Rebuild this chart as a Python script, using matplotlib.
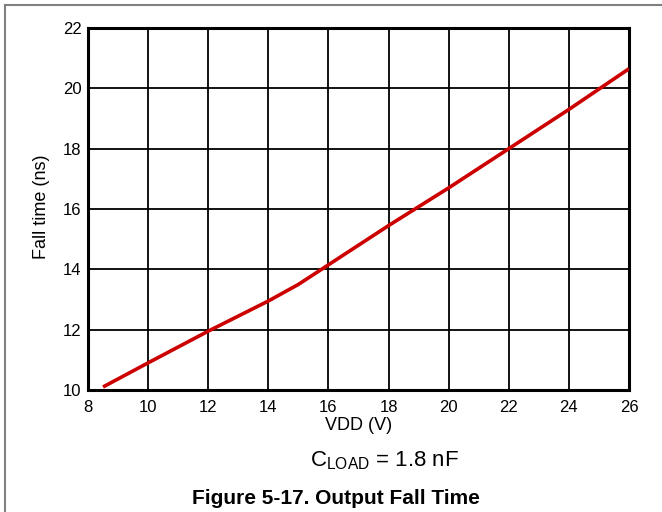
import matplotlib

matplotlib.use("Agg")
import matplotlib.pyplot as plt
from matplotlib.lines import Line2D

plt.rcParams["font.family"] = ["Liberation Sans", "DejaVu Sans"]

# ── Data ──────────────────────────────────────────────────────────────────
vdd = [8.5, 10, 12, 14, 15, 16, 18, 20, 22, 24, 26]
fall_ns = [10.1, 10.9, 11.95, 12.95, 13.5, 14.15, 15.45, 16.7, 18.0, 19.3, 20.65]

x_ticks = [8, 10, 12, 14, 16, 18, 20, 22, 24, 26]
y_ticks = [10, 12, 14, 16, 18, 20, 22]

W, H = 662, 512
fig = plt.figure(figsize=(W / 100, H / 100), dpi=100)
ax = fig.add_axes([88 / W, 1 - 390 / H, (629 - 88) / W, (390 - 28) / H])

ax.plot(vdd, fall_ns, color="#CC0000", linewidth=2.6, solid_capstyle="butt", zorder=3)

ax.set_xlim(8, 26)
ax.set_ylim(10, 22)
ax.set_xticks(x_ticks)
ax.set_yticks(y_ticks)
ax.tick_params(length=0, labelsize=12)
ax.tick_params(axis="x", pad=7.5)
ax.tick_params(axis="y", pad=4.5)
ax.grid(True, color="black", linewidth=1.3)
for sp in ax.spines.values():
    sp.set_linewidth(2.2)

# axis titles, placed by hand
fig.text(359 / W, 1 - 425 / H, "VDD (V)", ha="center", va="center", fontsize=13)
fig.text(42 / W, 1 - 207 / H, "Fall time (ns)", ha="center", va="center",
         rotation=90, fontsize=13)

fig.text(384 / W, 1 - 461 / H, r"C$_{\mathregular{LOAD}}$ = 1.8 nF",
         ha="center", va="center", fontsize=16)
fig.text(336 / W, 1 - 498 / H, "Figure 5-17. Output Fall Time",
         ha="center", va="center", fontsize=15, fontweight="bold")

# grey frame on the left and top edges only
frame = dict(color="#808080", linewidth=1.5, transform=fig.transFigure)
fig.add_artist(Line2D([4.5 / W, 4.5 / W], [0, 1 - 5 / H], **frame))
fig.add_artist(Line2D([4.5 / W, 1], [1 - 5 / H, 1 - 5 / H], **frame))

fig.savefig("out.png", dpi=100)
